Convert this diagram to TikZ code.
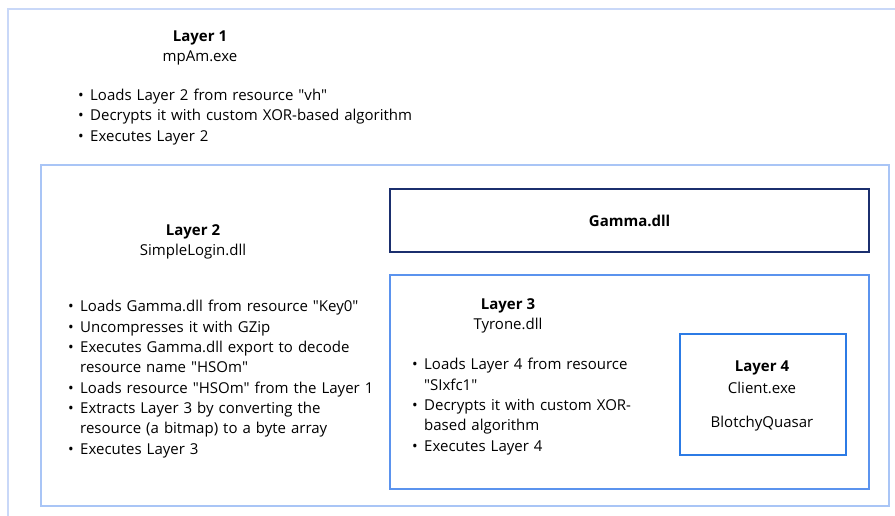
\documentclass[tikz,border=0pt]{standalone}
\usepackage{fontspec}
\setmainfont{Open Sans}
\definecolor{lOne}{HTML}{C9D8F8}
\definecolor{lTwo}{HTML}{A9C5F6}
\definecolor{gam}{HTML}{1B2F6E}
\definecolor{lThree}{HTML}{5B93EE}
\definecolor{lFour}{HTML}{2C7BE5}
\newcommand{\bitm}{\par\hangindent=12pt\hangafter=1\noindent\makebox[12pt][l]{\textbullet}}
\newcommand{\nl}{\hfil\break}
\newcommand{\q}{\textquotedbl}
\begin{document}
\begin{tikzpicture}[x=1pt,y=-1pt,
  ttl/.style={font=\fontsize{15}{18}\selectfont\bfseries, inner sep=0pt, anchor=center},
  sub/.style={font=\fontsize{15}{18}\selectfont, inner sep=0pt, anchor=center},
  lst/.style={font=\fontsize{15}{20.4}\selectfont, inner sep=0pt, anchor=north west, align=left},
  frame/.style={line width=2pt}]
\useasboundingbox (0,0) rectangle (895,516);
\clip (0,0) rectangle (895,516);
\fill[white] (0,0) rectangle (895,516);
% boxes
\draw[frame, lOne] (8,9) rectangle (910,530);
\node[draw=lTwo, line width=2pt, inner sep=0pt, minimum width=848pt, minimum height=341pt, anchor=north west] (l2box) at (40,164) {};
\node[draw=gam, line width=2.2pt, inner sep=0pt, minimum width=479pt, minimum height=63pt, anchor=north west] (gbox) at (389,188) {};
\node[draw=lThree, line width=2pt, inner sep=0pt, minimum width=479pt, minimum height=214pt, anchor=north west] (l3box) at (389,274) {};
\node[draw=lFour, line width=2pt, inner sep=0pt, minimum width=166pt, minimum height=121pt, anchor=north west] (l4box) at (679,333) {};
% Layer 1
\node[ttl] (t1) at (200,37.5) {Layer 1};
\node[sub] (s1) at (200,57.5) {mpAm.exe};
\node[lst, text width=400pt] (b1) at (78,80) {\bitm Loads Layer 2 from resource \q vh\q\bitm Decrypts it with custom XOR-based algorithm\bitm Executes Layer 2};
% Layer 2
\node[ttl] (t2) at (193,231.5) {Layer 2};
\node[sub] (s2) at (193,251.5) {SimpleLogin.dll};
\node[lst, text width=340pt] (b2) at (68,291) {\bitm Loads Gamma.dll from resource \q Key0\q\bitm Uncompresses it with GZip\bitm Executes Gamma.dll export to decode\nl resource name \q HSOm\q\bitm Loads resource \q HSOm\q{} from the Layer 1\bitm Extracts Layer 3 by converting the\nl resource (a bitmap) to a byte array\bitm Executes Layer 3};
% Gamma
\node[ttl] (g) at (gbox.center) {Gamma.dll};
% Layer 3
\node[ttl] (t3) at (508,305.5) {Layer 3};
\node[sub] (s3) at (508,326) {Tyrone.dll};
\node[lst, text width=250pt] (b3) at (412,349) {\bitm Loads Layer 4 from resource\nl\q SIxfc1\q\bitm Decrypts it with custom XOR-\nl based algorithm\bitm Executes Layer 4};
% Layer 4
\node[ttl] (t4) at (762,368) {Layer 4};
\node[sub] (s4) at (762,388) {Client.exe};
\node[sub] (q4) at (762,424) {BlotchyQuasar};
\end{tikzpicture}
\end{document}
